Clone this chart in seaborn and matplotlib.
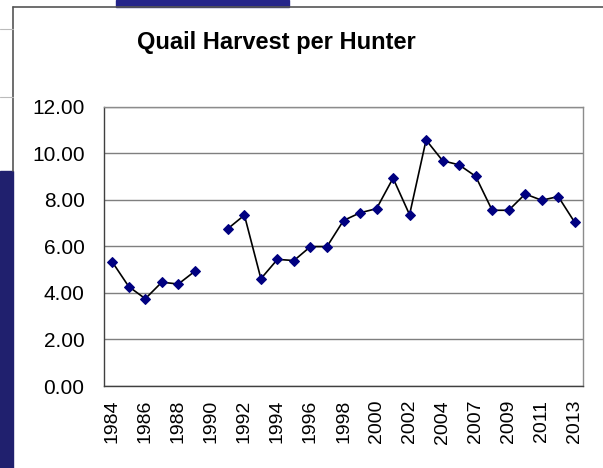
import numpy as np
import pandas as pd
import seaborn as sns
import matplotlib.pyplot as plt
import matplotlib.patches as mpatches
from matplotlib.lines import Line2D

# categories (one year missing between 2004 and 2007 in the source axis)
years = ['1984', '1985', '1986', '1987', '1988', '1989', '1990', '1991', '1992', '1993',
         '1994', '1995', '1996', '1997', '1998', '1999', '2000', '2001', '2002', '2003',
         '2004', '2006', '2007', '2008', '2009', '2010', '2011', '2012', '2013']
harvest = [5.33, 4.27, 3.75, 4.46, 4.38, 4.93, np.nan, 6.76, 7.34, 4.61,
           5.44, 5.39, 5.99, 5.99, 7.11, 7.44, 7.62, 8.93, 7.36, 10.57,
           9.68, 9.50, 9.01, 7.55, 7.55, 8.25, 7.98, 8.14, 7.03]
tick_labels = years[::2]
y_ticks = [0, 2, 4, 6, 8, 10, 12]

df = pd.DataFrame({'year': years, 'harvest': harvest})
df['pos'] = np.arange(len(df))
df['seg'] = df['harvest'].isna().cumsum()  # break the line at the missing year
df = df.dropna()

sns.set_style('white')
plt.rcParams['font.family'] = ['Liberation Sans', 'DejaVu Sans']
plt.rcParams['text.color'] = 'black'
plt.rcParams['xtick.labelcolor'] = 'black'
plt.rcParams['ytick.labelcolor'] = 'black'

fig = plt.figure(figsize=(6.03, 4.68), dpi=100)
ax = fig.add_axes([104/603, 1-386/468, 479/603, (386-106.7)/468])

sns.lineplot(data=df, x='pos', y='harvest', units='seg', estimator=None, ax=ax,
             color='black', linewidth=1.2, marker='D', markersize=5.5,
             markerfacecolor='#000080', markeredgecolor='#000080')

ax.set_xlim(-0.5, len(years) - 0.5)
ax.set_ylim(0, 12)
ax.set_yticks(y_ticks)
ax.set_yticklabels(['{:.2f}'.format(v) for v in y_ticks], fontsize=15)
ax.set_xticks(np.arange(0, len(years), 2))
ax.set_xticklabels(tick_labels, rotation=90, fontsize=14)
ax.set_xticks(np.arange(-0.5, len(years), 1), minor=True)
ax.tick_params(axis='x', which='major', length=0, pad=10)
ax.tick_params(axis='x', which='minor', length=5, width=1, color='#555555', direction='out')
ax.tick_params(axis='y', length=6, width=1, color='#555555', direction='out', pad=8)
ax.set_xlabel('')
ax.set_ylabel('')

ax.yaxis.grid(True, color='#7f7f7f', linewidth=1)
ax.set_axisbelow(True)
for side in ['top', 'right']:
    ax.spines[side].set_color('#8c8c8c')
    ax.spines[side].set_linewidth(1)
for side in ['left', 'bottom']:
    ax.spines[side].set_color('#404040')
    ax.spines[side].set_linewidth(1)

fig.text(276/603, 1-42/468, 'Quail Harvest per Hunter', ha='center', va='center',
         fontsize=17, fontweight='bold', color='black')

# slide decoration around the chart object
fig.patches.append(mpatches.Rectangle((116/603, 1-7/468), 173/603, 7/468,
                                      transform=fig.transFigure, color='#24248a', zorder=0))
fig.patches.append(mpatches.Rectangle((0, 0), 13/603, (468-171)/468,
                                      transform=fig.transFigure, color='#20206e', zorder=0))
fig.lines.append(Line2D([13/603, 1], [1-7/468, 1-7/468], transform=fig.transFigure,
                        color='#555555', linewidth=1.2))
fig.lines.append(Line2D([13/603, 13/603], [1-7/468, 1-171/468], transform=fig.transFigure,
                        color='#555555', linewidth=1.2))
for yy in [29, 97]:
    fig.lines.append(Line2D([0, 13/603], [1-yy/468, 1-yy/468], transform=fig.transFigure,
                            color='#bbbbbb', linewidth=0.8))

fig.savefig('out.png', dpi=100)
